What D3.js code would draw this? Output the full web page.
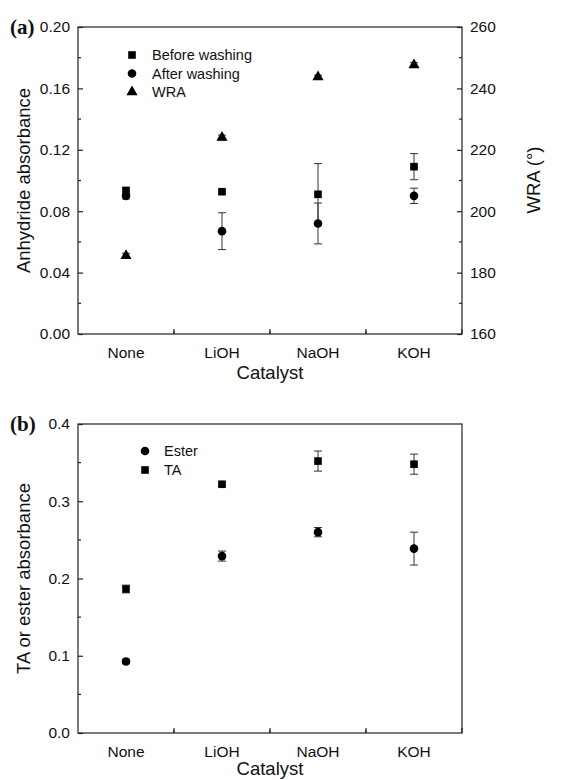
<!DOCTYPE html>
<html>
<head>
  <meta charset="utf-8">
  <title>Catalyst absorbance</title>
  <script src="https://d3js.org/d3.v7.min.js"></script>
  <style>
    body { margin: 0; background: #fff; }
    svg text { font-family: "Liberation Sans", Arial, sans-serif; fill: #111; }
    .axis path, .axis line { stroke: #222; stroke-width: 1.2px; }
    .axis text { font-size: 15.5px; }
    .title { font-size: 18.5px; }
    .tag { font-family: "Liberation Serif", "Times New Roman", serif !important; font-weight: bold; font-size: 21px; }
    .err { stroke: #333; stroke-width: 1px; fill: none; }
    .legend text { font-size: 14.5px; }
  </style>
</head>
<body>
<div id="chart"></div>
<script>
// categories shared by both panels
var catalysts = ["None", "LiOH", "NaOH", "KOH"];

// panel (a): anhydride absorbance and WRA
var beforeWashing    = [0.0935, 0.0927, 0.091, 0.109];
var beforeWashingErr = [0.002, 0.001, 0.020, 0.0085];
var afterWashing     = [0.090, 0.067, 0.072, 0.090];
var afterWashingErr  = [0.002, 0.012, 0.0133, 0.005];
var wra              = [185.5, 224, 243.7, 247.6];
var wraErr           = [0.8, 0.8, 0.6, 0.8];

// panel (b): TA / ester absorbance
var ester    = [0.0926, 0.229, 0.260, 0.2387];
var esterErr = [0.003, 0.0065, 0.006, 0.0213];
var ta       = [0.1864, 0.322, 0.352, 0.348];
var taErr    = [0.005, 0.002, 0.013, 0.013];

var leftTicksA  = [0, 0.04, 0.08, 0.12, 0.16, 0.20];
var rightTicksA = [160, 180, 200, 220, 240, 260];
var leftTicksB  = [0, 0.1, 0.2, 0.3, 0.4];

var W = 570, H = 780;
var left = 78, right = 462;

var svg = d3.select("#chart").append("svg")
  .attr("width", W).attr("height", H);

var symSquare = d3.symbol().type(d3.symbolSquare).size(58);
var symCircle = d3.symbol().type(d3.symbolCircle).size(58);
var symTri = d3.symbol().type(d3.symbolTriangle).size(54);

function series(g, x, y, vals, errs, sym) {
  var s = g.append("g");
  vals.forEach(function(v, i) {
    var cx = x(catalysts[i]) + x.bandwidth() / 2;
    var e = errs[i];
    s.append("line").attr("class", "err")
      .attr("x1", cx).attr("x2", cx).attr("y1", y(v - e)).attr("y2", y(v + e));
    [v - e, v + e].forEach(function(t) {
      s.append("line").attr("class", "err")
        .attr("x1", cx - 4).attr("x2", cx + 4).attr("y1", y(t)).attr("y2", y(t));
    });
    s.append("path").attr("d", sym)
      .attr("transform", "translate(" + cx + "," + y(v) + ")")
      .attr("fill", "#000");
  });
}

function minorTicks(g, scale, vals, orient, len) {
  vals.forEach(function(v) {
    var p = scale(v);
    if (orient === "left") g.append("line").attr("x1", 0).attr("x2", len).attr("y1", p).attr("y2", p);
    if (orient === "right") g.append("line").attr("x1", 0).attr("x2", -len).attr("y1", p).attr("y2", p);
  });
  g.selectAll("line").attr("stroke", "#222").attr("stroke-width", 1.2);
}

function panel(top, bottom, yDomain, yTicks, yFmt, minorStep, yLabel, tag, catY) {
  var x = d3.scaleBand().domain(catalysts).range([left, right]);
  var y = d3.scaleLinear().domain(yDomain).range([bottom, top]);
  var g = svg.append("g");

  // frame
  g.append("rect").attr("x", left).attr("y", top)
    .attr("width", right - left).attr("height", bottom - top)
    .attr("fill", "none").attr("stroke", "#222").attr("stroke-width", 1.2);

  // x axis, ticks inward
  var xa = g.append("g").attr("class", "axis")
    .attr("transform", "translate(0," + bottom + ")")
    .call(d3.axisBottom(x).tickSizeInner(-5).tickSizeOuter(0).tickPadding(10));
  xa.select(".domain").remove();
  xa.selectAll(".tick line").attr("transform", "translate(" + x.bandwidth() / 2 + ",0)");
  xa.selectAll(".tick").each(function(d, i) {
    if (i > 0) d3.select(this).append("line")
      .attr("x1", -x.bandwidth() / 2).attr("x2", -x.bandwidth() / 2)
      .attr("y1", 0).attr("y2", -3);
  });
  xa.selectAll(".tick text").attr("dy", "0.9em");

  // y axis left
  var ya = g.append("g").attr("class", "axis")
    .attr("transform", "translate(" + left + ",0)")
    .call(d3.axisLeft(y).tickValues(yTicks).tickFormat(yFmt).tickSizeInner(-5).tickSizeOuter(0).tickPadding(8));
  ya.select(".domain").remove();
  var minors = d3.range(yDomain[0] + minorStep, yDomain[1], minorStep * 2);
  minorTicks(ya.append("g"), y, minors, "left", 3);

  svg.append("text").attr("class", "title")
    .attr("transform", "translate(" + 30 + "," + (top + bottom) / 2 + ") rotate(-90)")
    .attr("text-anchor", "middle").text(yLabel);
  svg.append("text").attr("class", "title")
    .attr("x", (left + right) / 2).attr("y", catY)
    .attr("text-anchor", "middle").text("Catalyst");
  svg.append("text").attr("class", "tag")
    .attr("x", 10).attr("y", top + 7).text(tag);

  return {x: x, y: y, g: g};
}

// ---- panel (a)
var pa = panel(27, 334, [0, 0.20], leftTicksA, d3.format(".2f"), 0.02, "Anhydride absorbance", "(a)", 379);
var yR = d3.scaleLinear().domain([160, 260]).range([334, 27]);
var ra = pa.g.append("g").attr("class", "axis")
  .attr("transform", "translate(" + right + ",0)")
  .call(d3.axisRight(yR).tickValues(rightTicksA).tickSizeInner(-5).tickSizeOuter(0).tickPadding(8));
ra.select(".domain").remove();
minorTicks(ra.append("g"), yR, d3.range(170, 260, 20), "right", 3);
svg.append("text").attr("class", "title")
  .attr("transform", "translate(" + 540 + "," + 180 + ") rotate(-90)")
  .attr("text-anchor", "middle").text("WRA (°)");

series(pa.g, pa.x, pa.y, beforeWashing, beforeWashingErr, symSquare);
series(pa.g, pa.x, pa.y, afterWashing, afterWashingErr, symCircle);
series(pa.g, pa.x, yR, wra, wraErr, symTri);

var legA = svg.append("g").attr("class", "legend");
[["Before washing", symSquare], ["After washing", symCircle], ["WRA", symTri]].forEach(function(d, i) {
  var yy = 55 + i * 18.5;
  legA.append("path").attr("d", d[1]).attr("transform", "translate(132," + yy + ")");
  legA.append("text").attr("x", 152).attr("y", yy).attr("dy", "0.36em").text(d[0]);
});

// ---- panel (b)
var pb = panel(424, 733, [0, 0.4], leftTicksB, d3.format(".1f"), 0.05, "TA or ester absorbance", "(b)", 775);
series(pb.g, pb.x, pb.y, ester, esterErr, symCircle);
series(pb.g, pb.x, pb.y, ta, taErr, symSquare);

var legB = svg.append("g").attr("class", "legend");
[["Ester", symCircle], ["TA", symSquare]].forEach(function(d, i) {
  var yy = 451 + i * 19;
  legB.append("path").attr("d", d[1]).attr("transform", "translate(145," + yy + ")");
  legB.append("text").attr("x", 164).attr("y", yy).attr("dy", "0.36em").text(d[0]);
});
</script>
</body>
</html>
